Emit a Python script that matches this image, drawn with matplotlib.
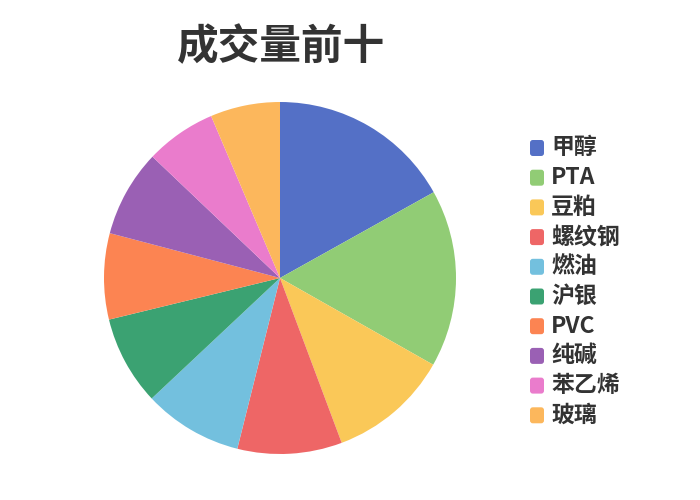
import matplotlib
matplotlib.use("Agg")
import matplotlib.pyplot as plt
from matplotlib.patches import FancyBboxPatch

plt.rcParams['font.family'] = ['Noto Sans CJK SC', 'DejaVu Sans']

categories = ['甲醇', 'PTA', '豆粕', '螺纹钢', '燃油', '沪银', 'PVC', '纯碱', '苯乙烯', '玻璃']
values = [16.9, 16.3, 11.1, 9.6, 9.1, 8.2, 7.9, 8.0, 6.5, 6.4]
colors = ['#5470c6', '#91cc75', '#fac858', '#ee6666', '#73c0de',
          '#3ba272', '#fc8452', '#9a60b4', '#ea7ccc', '#fcb75c']
title = '成交量前十'

W, H = 700, 500
fig = plt.figure(figsize=(7, 5), dpi=100)
fig.patch.set_facecolor('white')

cx, cy, r = 280, 278, 176
ax = fig.add_axes([(cx - r) / W, (H - cy - r) / H, 2 * r / W, 2 * r / H])
ax.pie(values, colors=colors, startangle=90, counterclock=False,
       radius=1, wedgeprops=dict(linewidth=0))
ax.set_xlim(-1, 1)
ax.set_ylim(-1, 1)
ax.set_aspect('equal')
ax.axis('off')

fig.text(281 / W, 1 - 47 / H, title, ha='center', va='center',
         fontsize=30, fontweight='bold', color='#333333')

# legend
lx, ly0, dy = 530, 148, 29.7
sw, sh = 14, 16
for i, (cat, col) in enumerate(zip(categories, colors)):
    yc = ly0 + i * dy
    p = FancyBboxPatch(((lx) / W, 1 - (yc + sh / 2) / H), sw / W, sh / H,
                       boxstyle='round,pad=0,rounding_size=0.004',
                       transform=fig.transFigure, facecolor=col,
                       edgecolor='none', mutation_aspect=W / H)
    fig.patches.append(p)
    fig.text(551 / W, 1 - yc / H, cat, ha='left', va='center',
             fontsize=16.5, fontweight='bold', color='#333333')

fig.savefig('out.png', dpi=100)
